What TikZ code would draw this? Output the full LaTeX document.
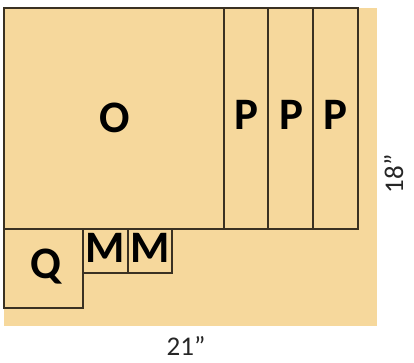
\documentclass[tikz,border=0pt]{standalone}
\usepackage{fontspec}
\setmainfont{Carlito}
\definecolor{board}{HTML}{F6D89C}
\definecolor{edge}{HTML}{3A3122}
\tikzset{
  piece/.style={draw=edge, line width=2.4pt},
  lbl/.style={font=\fontsize{45}{45}\selectfont\bfseries, text=black, anchor=base, inner sep=0pt},
  dim/.style={font=\fontsize{27}{27}\selectfont, text=black!85, anchor=base, inner sep=0pt}
}
\begin{document}
\begin{tikzpicture}[x=1pt,y=-1pt]
\useasboundingbox (0,0) rectangle (414,362);
\fill[board] (4,8) rectangle (377,326);
% pieces
\draw[piece] (4,8) rectangle (358,229);
\draw[piece] (224,8) -- (224,229);
\draw[piece] (268,8) -- (268,229);
\draw[piece] (313,8) -- (313,229);
\draw[piece] (4,229) rectangle (83,308);
\draw[piece] (83,229) rectangle (128,273);
\draw[piece] (128,229) rectangle (172,273);
% labels
\node[lbl] (o) at (115,132) {O};
\node[lbl] (p1) at (246,129) {P};
\node[lbl] (p2) at (291,129) {P};
\node[lbl] (p3) at (335,129) {P};
\node[lbl] (q) at (46,278) {Q};
\node[lbl] (m1) at (105,262) {M};
\node[lbl] (m2) at (150,262) {M};
\node[dim] (w) at (186,355) {21\symbol{34}};
\node[dim, rotate=90] (h) at (403,174) {18\symbol{34}};
\end{tikzpicture}
\end{document}
